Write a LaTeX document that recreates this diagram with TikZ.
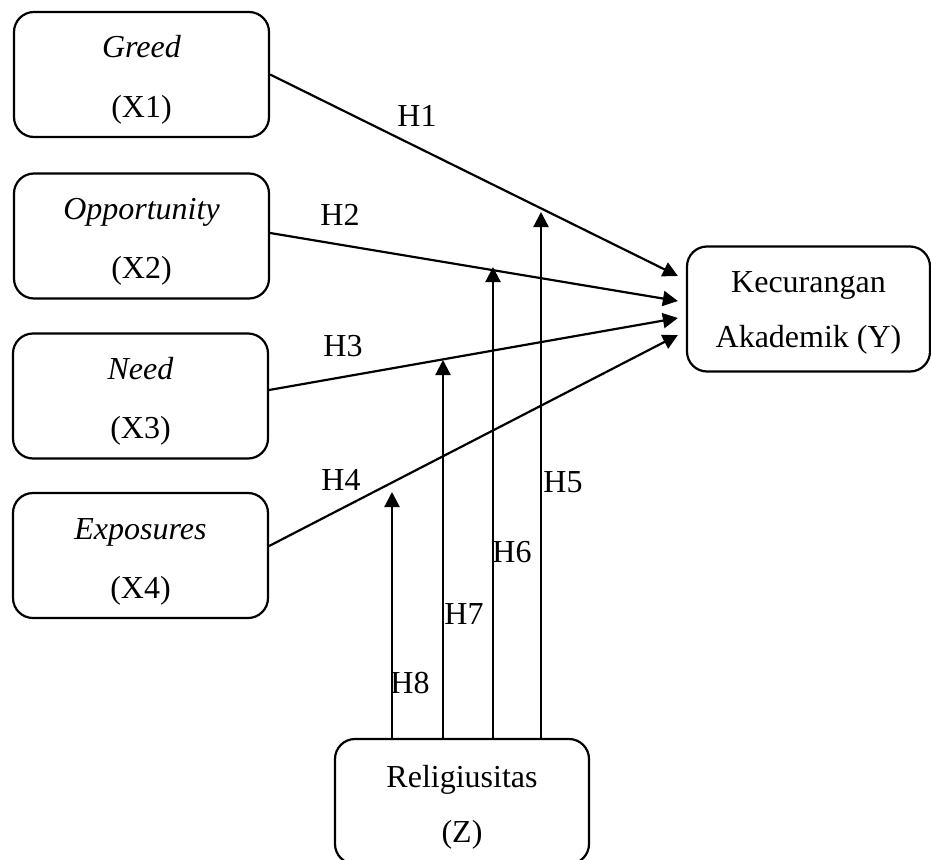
\documentclass[tikz,border=0pt]{standalone}
\usepackage{fontspec}
\setmainfont{Liberation Serif}
\usetikzlibrary{arrows.meta,calc}
\newcommand{\twolines}[3]{\rule{0pt}{34pt}#1\\#2\rule[-#3pt]{0pt}{0pt}}
\begin{document}
\begin{tikzpicture}[x=1pt,y=-1pt,
  varbox/.style={draw,line width=2.2pt,rounded corners=20pt,minimum width=255pt,minimum height=125pt,inner sep=0pt,align=center,font=\fontsize{32}{59}\selectfont},
  arr/.style={line width=2.2pt,-{Triangle[length=15pt,width=15pt]}},
  lab/.style={font=\fontsize{32}{37}\selectfont,inner sep=0pt}]
\useasboundingbox (0,0) rectangle (931,859);
\node[varbox] (G) at (141.5,74.5) {\twolines{\textit{Greed}}{(X1)}{8}};
\node[varbox] (O) at (141.5,236) {\twolines{\textit{Opportunity}}{(X2)}{8}};
\node[varbox] (N) at (140.5,396) {\twolines{\textit{Need}}{(X3)}{8}};
\node[varbox] (E) at (140.5,555.5) {\twolines{\textit{Exposures}}{(X4)}{8}};
\node[varbox,minimum width=243pt,font=\fontsize{32}{55}\selectfont] (K) at (808.5,309) {\twolines{Kecurangan}{Akademik (Y)}{13}};
\node[varbox,minimum width=254pt,font=\fontsize{32}{55}\selectfont] (R) at (462,801.5) {\twolines{Religiusitas}{(Z)}{8}};
\draw[arr] (G.east) -- ([xshift=-8pt,yshift=33pt]K.west);
\draw[arr] ([yshift=3pt]O.east) -- ([xshift=-8pt,yshift=8pt]K.west);
\draw[arr] ([yshift=6pt]N.east) -- ([xshift=-8pt,yshift=-9pt]K.west);
\draw[arr] ([yshift=9.5pt]E.east) -- ([xshift=-8pt,yshift=-26pt]K.west);
\coordinate (t5) at (541,212);
\coordinate (t6) at (493,267);
\coordinate (t7) at (443,360);
\coordinate (t8) at (392,492);
\draw[arr] (t5 |- R.north) -- (t5);
\draw[arr] (t6 |- R.north) -- (t6);
\draw[arr] (t7 |- R.north) -- (t7);
\draw[arr] (t8 |- R.north) -- (t8);
\node[lab] (h1) at (417,116) {H1};
\node[lab] (h2) at (340,215) {H2};
\node[lab] (h3) at (343,346) {H3};
\node[lab] (h4) at (341,480) {H4};
\node[lab] (h5) at (563,482) {H5};
\node[lab] (h6) at (512,552) {H6};
\node[lab] (h7) at (464,614) {H7};
\node[lab] (h8) at (410,683) {H8};
\end{tikzpicture}
\end{document}
